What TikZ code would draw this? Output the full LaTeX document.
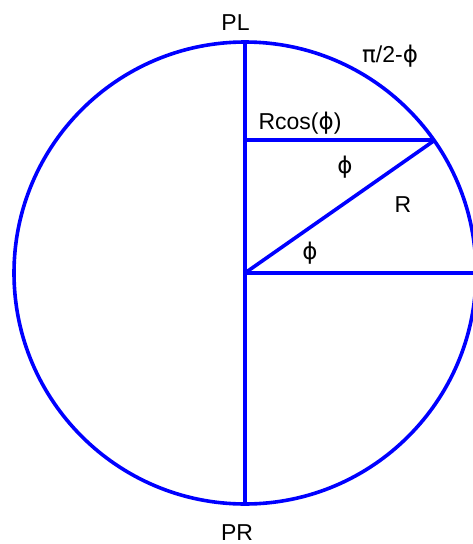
\documentclass[tikz,border=0pt]{standalone}
\usepackage{fontspec}
\setmainfont{Liberation Sans}
\newfontfamily\grk{DejaVu Sans}
\definecolor{lineblue}{RGB}{0,0,255}
\begin{document}
\begin{tikzpicture}[x=1pt,y=-1pt,
  geom/.style={draw=lineblue,line width=3.6pt},
  lbl/.style={anchor=base,inner sep=0pt,font=\fontsize{23}{27}\selectfont}]
\useasboundingbox (0,0) rectangle (473,544);
\clip (0,0) rectangle (473,544);
\coordinate (O) at (245,273);
\coordinate (PLp) at (245,42);
\coordinate (PRp) at (245,504);
\coordinate (P) at (435,140);
\coordinate (C) at (245,140);
\coordinate (E) at (480,273);
\draw[geom] (O) circle (231pt);
\draw[geom] (PLp) -- (PRp);
\draw[geom] (C) -- (P);
\draw[geom] (O) -- (P);
\draw[geom] (O) -- (E);
\node[lbl] (pl) at (235.5,30) {PL};
\node[lbl] (pr) at (237,540) {PR};
\node[lbl] (arc) at (390,62) {{\grk π}/2-{\grk ϕ}};
\node[lbl] (rc) at (300,129) {Rcos({\grk ϕ})};
\node[lbl] (phiu) at (345,173) {{\grk ϕ}};
\node[lbl] (r) at (403,212) {R};
\node[lbl] (phil) at (310,259) {{\grk ϕ}};
\end{tikzpicture}
\end{document}
